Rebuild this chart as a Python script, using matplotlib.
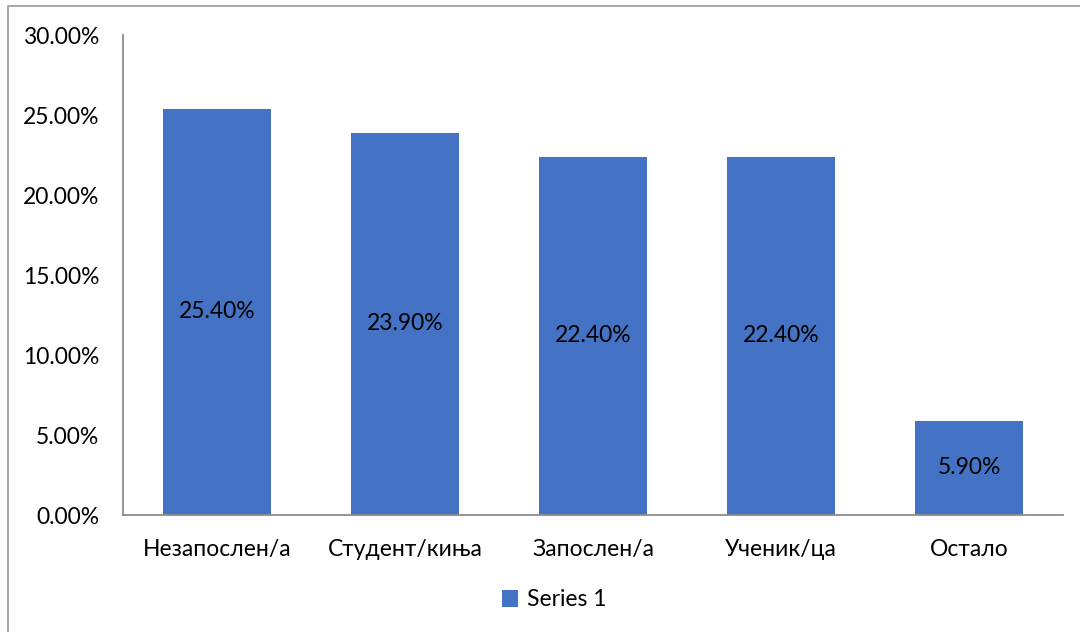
import matplotlib.pyplot as plt
from matplotlib.patches import Rectangle

categories = ["Незапослен/а", "Студент/киња", "Запослен/а", "Ученик/ца", "Остало"]
values = [25.40, 23.90, 22.40, 22.40, 5.90]
series_name = "Series 1"

plt.rcParams['font.family'] = ['Lato', 'DejaVu Sans']

fig = plt.figure(figsize=(10.8, 6.32), dpi=100)
ax = fig.add_axes([123 / 1080, 1 - 515 / 632, 940 / 1080, 480 / 632])

bar_color = "#4472C4"
axis_color = "#8C8C8C"
fs = 16.5

bars = ax.bar(range(len(categories)), values, width=0.575, color=bar_color, label=series_name)
for b, v in zip(bars, values):
    ax.text(b.get_x() + b.get_width() / 2, v / 2, f"{v:.2f}%", ha="center", va="center",
            fontsize=fs, color="black")

ax.set_xlim(-0.5, len(categories) - 0.5)
ax.set_ylim(0, 30)
ax.set_yticks(range(0, 31, 5))
ax.set_yticklabels([f"{t:.2f}%" for t in range(0, 31, 5)])
ax.set_xticks(range(len(categories)))
ax.set_xticklabels(categories)
ax.tick_params(axis="both", length=0, labelsize=fs, colors="black")
ax.tick_params(axis="y", pad=17)
ax.tick_params(axis="x", pad=17)

for s in ["top", "right"]:
    ax.spines[s].set_visible(False)
for s in ["left", "bottom"]:
    ax.spines[s].set_color(axis_color)
    ax.spines[s].set_linewidth(1.3)

leg = fig.legend(loc="center", bbox_to_anchor=(554 / 1080, 1 - 600 / 632), frameon=False,
                 fontsize=fs, handlelength=0.7, handleheight=0.7, handletextpad=0.4)

fig.patches.append(Rectangle((8 / 1080, -0.1), 1.2, 1 - 6 / 632 + 0.1, transform=fig.transFigure,
                             fill=False, edgecolor="#A0A0A0", linewidth=1.3))

fig.savefig("out.png", dpi=100)
